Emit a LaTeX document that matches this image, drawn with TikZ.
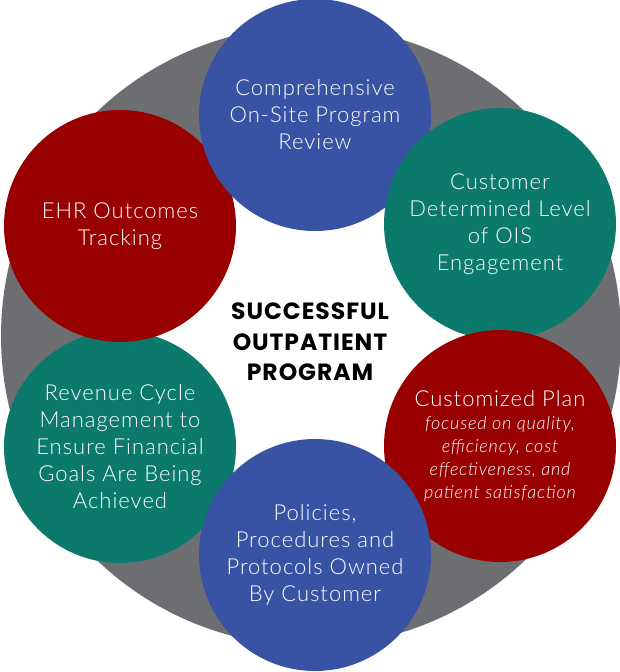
\documentclass[tikz,border=0pt]{standalone}
\usepackage{fontspec}
\setmainfont{Lato Light}[LetterSpace=4.5]
\newfontfamily\titlefont{Poppins}[LetterSpace=4]
\definecolor{ringgray}{RGB}{109,110,113}
\definecolor{ciblue}{RGB}{57,83,164}
\definecolor{citeal}{RGB}{11,122,108}
\definecolor{cired}{RGB}{153,0,0}
\newcommand\sublinefont{\fontsize{18}{22.8}\selectfont\itshape}

\begin{document}
\begin{tikzpicture}[x=1pt, y=-1pt,
    stage/.style={circle, minimum size=232pt, inner sep=0pt, text=white,
      align=center, font=\fontsize{22}{27}\selectfont}]
            \useasboundingbox (0,0) rectangle (620,672);
            % Ring
            \fill[ringgray] (311,336) circle[radius=310];
            \fill[white] (311,336) circle[radius=200];

            % Nodes
            \node[stage, fill=citeal] (revenue) at (120,447) {Revenue Cycle\\Management to\\Ensure Financial\\Goals Are Being\\Achieved};
            \node[stage, fill=cired] (ehr) at (120,226) {EHR Outcomes\\Tracking};
            \node[stage, fill=ciblue] (review) at (315,115) {Comprehensive\\On-Site Program\\Review};
            \node[stage, fill=citeal] (engage) at (500,224) {Customer\\Determined Level\\of OIS\\Engagement};
            \node[stage, fill=cired] (plan) at (500,446) {Customized Plan\\[-4pt]\sublinefont focused on quality,\\[-4pt]\sublinefont efficiency, cost\\[-4pt]\sublinefont effectiveness, and\\[-4pt]\sublinefont patient satisfaction};
            \node[stage, fill=ciblue] (policies) at (315,555) {Policies,\\Procedures and\\Protocols Owned\\By Customer};

            % Centre
            \node[align=center, font=\titlefont\bfseries\fontsize{23.5}{30.7}\selectfont] (goal) at (310,342) {SUCCESSFUL\\OUTPATIENT\\PROGRAM};
\end{tikzpicture}
\end{document}
